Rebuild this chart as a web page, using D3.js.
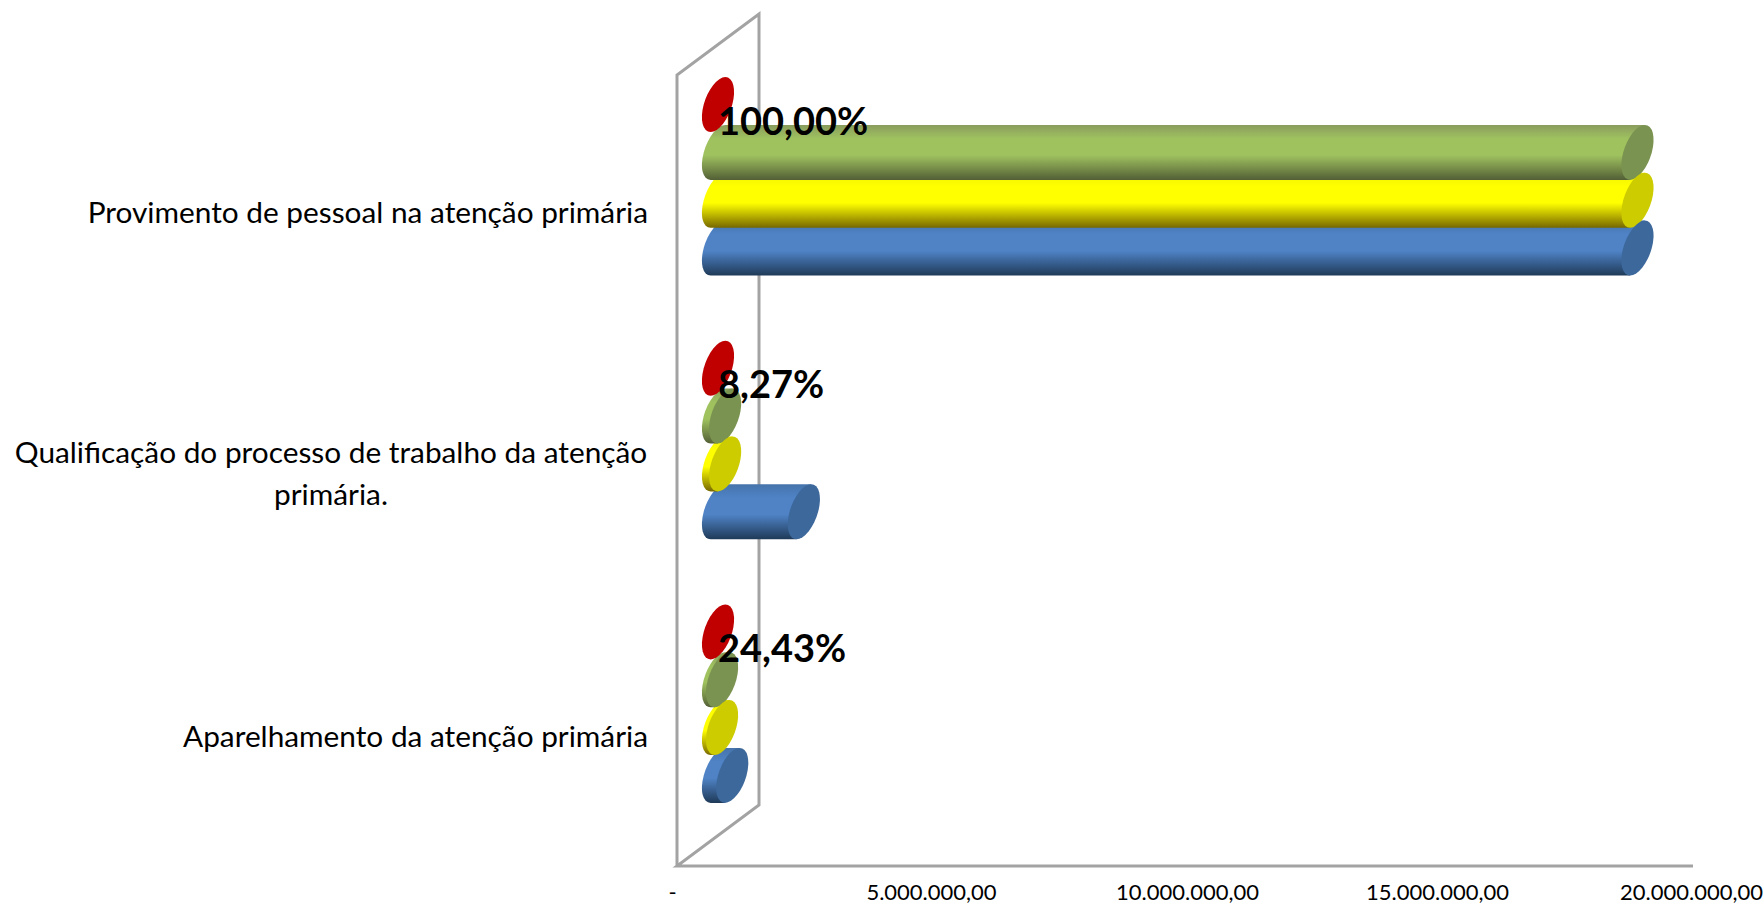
<!DOCTYPE html>
<html>

<head>
    <meta charset="utf-8">
    <title>Provimento, qualificação e aparelhamento</title>
    <script src="https://cdn.jsdelivr.net/npm/d3@7"></script>
    <style>
        html, body { margin: 0; padding: 0; background: #fff; }
    </style>
</head>

<body>
    <div id="chart"></div>
    <script>
        const categories = [
            "Provimento de pessoal na atenção primária",
            "Qualificação do processo de trabalho da atenção primária.",
            "Aparelhamento da atenção primária"
        ];
        const seriesNames = ["red", "green", "yellow", "blue"];
        // valores, na ordem das categorias
        const redValues = [0, 0, 0];
        const greenValues = [18100000, 140000, 80000];
        const yellowValues = [18100000, 140000, 80000];
        const blueValues = [18100000, 1690000, 280000];
        const percentLabels = ["100,00%", "8,27%", "24,43%"];
        const tickValues = [0, 5000000, 10000000, 15000000, 20000000];
        const tickLabels = ["-", "5.000.000,00", "10.000.000,00", "15.000.000,00", "20.000.000,00"];

        const seriesValues = [redValues, greenValues, yellowValues, blueValues];
        const colors = {
            red: { cap: "#c00000", stops: ["#c00000", "#c00000", "#c00000"] },
            green: { cap: "#7b9351", stops: ["#8a9c5e", "#9fc25f", "#535f36"] },
            yellow: { cap: "#cccc00", stops: ["#f0f000", "#ffff00", "#776800"] },
            blue: { cap: "#3d689b", stops: ["#4674ab", "#4f83c6", "#1f3a58"] }
        };

        const width = 1764, height = 908;
        const wallDepth = 82, wallRise = 61;   // caixa 3D do excel
        const floorY = 866, wallTop = 75;
        const x0 = 677, x1 = 1693;

        const svg = d3.select("#chart")
            .append("svg")
            .attr("width", width)
            .attr("height", height)
            .style("display", "block");

        const x = d3.scaleLinear().domain([0, 20000000]).range([x0, x1]);

        // as barras ficam no meio da profundidade
        const y = d3.scaleBand()
            .domain(categories)
            .range([wallTop - wallRise / 2, floorY - wallRise / 2]);
        const yInner = d3.scalePoint()
            .domain(seriesNames)
            .range([-71.75, 71.75]);

        const dx = wallDepth / 2;
        const capRx = 14.3, capRy = 27.5, skew = -15;

        // gradientes do cilindro
        const defs = svg.append("defs");
        seriesNames.forEach(name => {
            const grad = defs.append("linearGradient")
                .attr("id", "grad-" + name)
                .attr("x1", 0).attr("y1", 0).attr("x2", 0).attr("y2", 1);
            grad.append("stop").attr("offset", "0%").attr("stop-color", colors[name].stops[0]);
            grad.append("stop").attr("offset", "25%").attr("stop-color", colors[name].stops[1]);
            grad.append("stop").attr("offset", "55%").attr("stop-color", colors[name].stops[1]);
            grad.append("stop").attr("offset", "100%").attr("stop-color", colors[name].stops[2]);
        });

        // 1. parede e piso
        const wall = [
            [x0, floorY],
            [x0, wallTop],
            [x0 + wallDepth, wallTop - wallRise],
            [x0 + wallDepth, floorY - wallRise],
            [x0, floorY],
            [x1, floorY]
        ];
        svg.append("path")
            .attr("d", d3.line()(wall))
            .attr("fill", "none")
            .attr("stroke", "#a3a3a3")
            .attr("stroke-width", 3);

        const barY = (cat, name) => y(cat) + y.bandwidth() / 2 + yInner(name);

        // 2. corpos dos cilindros, de tras para frente
        categories.forEach((cat, c) => {
            seriesNames.slice().reverse().forEach(name => {
                const v = seriesValues[seriesNames.indexOf(name)][c];
                const left = x(0) + dx;
                const len = x(v) - x(0);
                if (len <= 0) return;
                svg.append("path")
                    .attr("class", "body-" + name)
                    .attr("d", `M0,${-capRy}L${len},${-capRy}L${len},${capRy}L0,${capRy}A${capRx},${capRy} 0 0 1 0,${-capRy}Z`)
                    .attr("transform", `translate(${left},${barY(cat, name)}) skewX(${skew})`)
                    .attr("fill", `url(#grad-${name})`);
            });
        });

        // 3. tampas
        categories.forEach((cat, c) => {
            seriesNames.forEach((name, s) => {
                svg.append("ellipse")
                    .attr("class", "cap-" + name)
                    .attr("rx", capRx)
                    .attr("ry", capRy)
                    .attr("transform", `translate(${x(seriesValues[s][c]) + dx},${barY(cat, name)}) skewX(${skew})`)
                    .attr("fill", colors[name].cap);
            });
        });

        // 4. rotulos de porcentagem
        categories.forEach((cat, c) => {
            svg.append("text")
                .attr("x", x(0) + dx)
                .attr("y", barY(cat, "red") + 30)
                .attr("fill", "#000")
                .attr("font-family", "Lato, sans-serif")
                .attr("font-weight", 700)
                .attr("font-size", 38)
                .text(percentLabels[c]);
        });

        // 5. categorias
        const catLabels = [
            [categories[0]],
            ["Qualificação do processo de trabalho da atenção", "primária."],
            [categories[2]]
        ];
        const catNudge = [3, 0, -1];
        categories.forEach((cat, c) => {
            const lines = catLabels[c];
            const cy = y(cat) + y.bandwidth() / 2;
            const t = svg.append("text")
                .attr("font-family", "Lato, sans-serif")
                .attr("font-size", 29.8)
                .attr("fill", "#000");
            lines.forEach((line, i) => {
                t.append("tspan")
                    .attr("text-anchor", lines.length > 1 ? "middle" : "end")
                    .attr("x", lines.length > 1 ? 331 : 648)
                    .attr("y", cy + 44 + catNudge[c] + (i - (lines.length - 1) / 2) * 42)
                    .text(line);
            });
        });

        // 6. eixo x
        const labelNudge = [-5, 0, 2, -2, -2];
        const axis = d3.axisBottom(x)
            .tickValues(tickValues)
            .tickFormat((d, i) => tickLabels[i])
            .tickSize(0)
            .tickPadding(18);
        const axisG = svg.append("g")
            .attr("transform", `translate(0,${floorY})`)
            .call(axis);
        axisG.select(".domain").remove();
        axisG.selectAll("text")
            .attr("dx", (d, i) => labelNudge[i])
            .attr("font-family", "Lato, sans-serif")
            .attr("font-size", 22)
            .attr("fill", "#000");
    </script>
</body>

</html>
